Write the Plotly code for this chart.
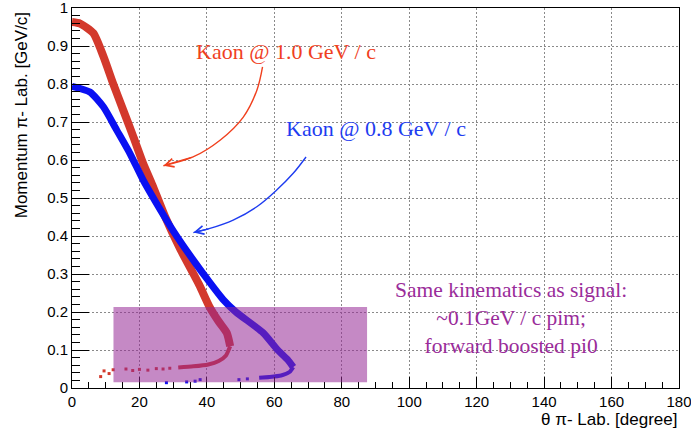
import plotly.graph_objects as go

# ---- data ----
red_theta = [0, 2.4, 6.3, 9.3, 12.2, 15.2, 18.2, 21.1, 23.8, 27.6, 32.2, 37.7, 40.7, 43.5, 45.9, 46.9]
red_p = [0.963, 0.959, 0.934, 0.873, 0.801, 0.731, 0.661, 0.591, 0.535, 0.451, 0.364, 0.272, 0.215, 0.175, 0.145, 0.110]
red_tail_theta = [46.9, 45.6, 43.5, 40.4, 36.0, 31.5]
red_tail_p = [0.110, 0.085, 0.071, 0.062, 0.057, 0.054]
red_dot_theta = [29, 27, 25, 22.5, 20, 18, 16, 12.2, 11, 9.5, 8.5]
red_dot_p = [0.052, 0.050, 0.051, 0.047, 0.049, 0.046, 0.050, 0.048, 0.038, 0.045, 0.030]

blue_theta = [0, 5.3, 9.3, 13.3, 17.2, 21.1, 24.6, 30.5, 36.5, 40.4, 44.9, 48.6, 56.7, 60.9, 63.9, 65.6]
blue_p = [0.794, 0.779, 0.740, 0.678, 0.617, 0.547, 0.493, 0.407, 0.330, 0.283, 0.232, 0.200, 0.145, 0.101, 0.075, 0.055]
blue_tail_theta = [65.6, 64.5, 62.0, 58.5, 55.5]
blue_tail_p = [0.055, 0.042, 0.033, 0.029, 0.027]
blue_dot_theta = [52, 49.5, 38, 36.5, 34, 28]
blue_dot_p = [0.024, 0.022, 0.022, 0.018, 0.016, 0.014]

# annotation geometry (data coords)
red_arrow_x = [56.5, 54.8, 50.8, 43.9, 35.9, 27.1]
red_arrow_y = [0.845, 0.783, 0.713, 0.652, 0.608, 0.585]
blue_arrow_x = [69.4, 65.6, 60.7, 54.8, 47.8, 40.9, 36.0]
blue_arrow_y = [0.608, 0.565, 0.521, 0.477, 0.442, 0.420, 0.409]

x_ticks = list(range(0, 181, 20))
y_ticks = [0, 0.1, 0.2, 0.3, 0.4, 0.5, 0.6, 0.7, 0.8, 0.9, 1]

RED = '#d3392c'
BLUE = '#0a10f2'
RED_TXT = '#f0401e'
BLUE_TXT = '#1e3cf0'
PURPLE_TXT = '#9a2c9a'
SERIF = 'Liberation Serif, serif'
SANS = 'Liberation Sans, Arial, sans-serif'

fig = go.Figure()

fig.add_trace(go.Scatter(x=red_theta, y=red_p, mode='lines',
                         line=dict(color=RED, width=8, shape='spline', smoothing=0.6), showlegend=False))
fig.add_trace(go.Scatter(x=red_tail_theta, y=red_tail_p, mode='lines',
                         line=dict(color=RED, width=4, shape='spline', smoothing=0.6), showlegend=False))
fig.add_trace(go.Scatter(x=red_dot_theta, y=red_dot_p, mode='markers',
                         marker=dict(color=RED, size=3, symbol='square'), showlegend=False))

fig.add_trace(go.Scatter(x=blue_theta, y=blue_p, mode='lines',
                         line=dict(color=BLUE, width=7, shape='spline', smoothing=0.6), showlegend=False))
fig.add_trace(go.Scatter(x=blue_tail_theta, y=blue_tail_p, mode='lines',
                         line=dict(color=BLUE, width=4, shape='spline', smoothing=0.6), showlegend=False))
fig.add_trace(go.Scatter(x=blue_dot_theta, y=blue_dot_p, mode='markers',
                         marker=dict(color=BLUE, size=3, symbol='square'), showlegend=False))

# curved arrows
fig.add_trace(go.Scatter(x=red_arrow_x, y=red_arrow_y, mode='lines',
                         line=dict(color=RED_TXT, width=1.4, shape='spline'), showlegend=False))
fig.add_trace(go.Scatter(x=blue_arrow_x, y=blue_arrow_y, mode='lines',
                         line=dict(color=BLUE_TXT, width=1.4, shape='spline'), showlegend=False))

annotations = [
    dict(x=red_arrow_x[-1], y=red_arrow_y[-1], ax=red_arrow_x[-2], ay=red_arrow_y[-2],
         xref='x', yref='y', axref='x', ayref='y', text='', showarrow=True,
         arrowhead=5, arrowsize=1.3, arrowwidth=1.3, arrowcolor=RED_TXT),
    dict(x=blue_arrow_x[-1], y=blue_arrow_y[-1], ax=blue_arrow_x[-2], ay=blue_arrow_y[-2],
         xref='x', yref='y', axref='x', ayref='y', text='', showarrow=True,
         arrowhead=5, arrowsize=1.3, arrowwidth=1.3, arrowcolor=BLUE_TXT),
    dict(x=63.4, y=0.885, xref='x', yref='y', text='Kaon @ 1.0 GeV / c', showarrow=False,
         font=dict(family=SERIF, size=22, color=RED_TXT), xanchor='center', yanchor='middle'),
    dict(x=90.1, y=0.683, xref='x', yref='y', text='Kaon @ 0.8 GeV / c', showarrow=False,
         font=dict(family=SERIF, size=22, color=BLUE_TXT), xanchor='center', yanchor='middle'),
    dict(x=130.2, y=0.185, xref='x', yref='y',
         text='Same kinematics as signal:<br>~0.1GeV / c pim;<br>forward boosted pi0',
         showarrow=False, align='center',
         font=dict(family=SERIF, size=21.5, color=PURPLE_TXT), xanchor='center', yanchor='middle'),
    dict(x=-0.083, y=0.993, xref='paper', yref='paper', text='Momentum π- Lab. [GeV/c]',
         textangle=-90, showarrow=False, xanchor='center', yanchor='top',
         font=dict(family=SANS, size=17, color='black')),
    dict(x=1.0, y=-0.052, xref='paper', yref='paper', text='θ π- Lab. [degree]',
         showarrow=False, xanchor='right', yanchor='top',
         font=dict(family=SANS, size=17, color='black')),
]

fig.add_shape(type='rect', xref='x', yref='y', x0=12.3, x1=87.5, y0=0.015, y1=0.213,
              fillcolor='rgba(150,40,150,0.55)', line=dict(width=0), layer='above')

axis_common = dict(ticks='inside', tickcolor='black', tickwidth=1,
                   showgrid=True, gridcolor='#8a8a8a', griddash='2px,2px', gridwidth=1,
                   showline=True, linecolor='black', linewidth=1, mirror=True,
                   zeroline=False, tickfont=dict(family=SANS, size=15, color='black'),
                   ticklabeloverflow='allow', automargin=False)

fig.update_layout(
    width=691, height=433,
    margin=dict(l=72, r=12, t=8, b=45, pad=0, autoexpand=False),
    plot_bgcolor='white', paper_bgcolor='white',
    xaxis=dict(range=[0, 180], tickmode='array', tickvals=x_ticks, ticklen=11,
               minor=dict(dtick=5, tick0=0, ticks='inside', ticklen=6, tickcolor='black', showgrid=False),
               **axis_common),
    yaxis=dict(range=[0, 1], tickmode='array', tickvals=y_ticks, ticklen=17,
               minor=dict(dtick=0.02, tick0=0, ticks='inside', ticklen=8, tickcolor='black', showgrid=False),
               **axis_common),
    annotations=annotations,
    showlegend=False,
)

fig.write_html('out.html')
